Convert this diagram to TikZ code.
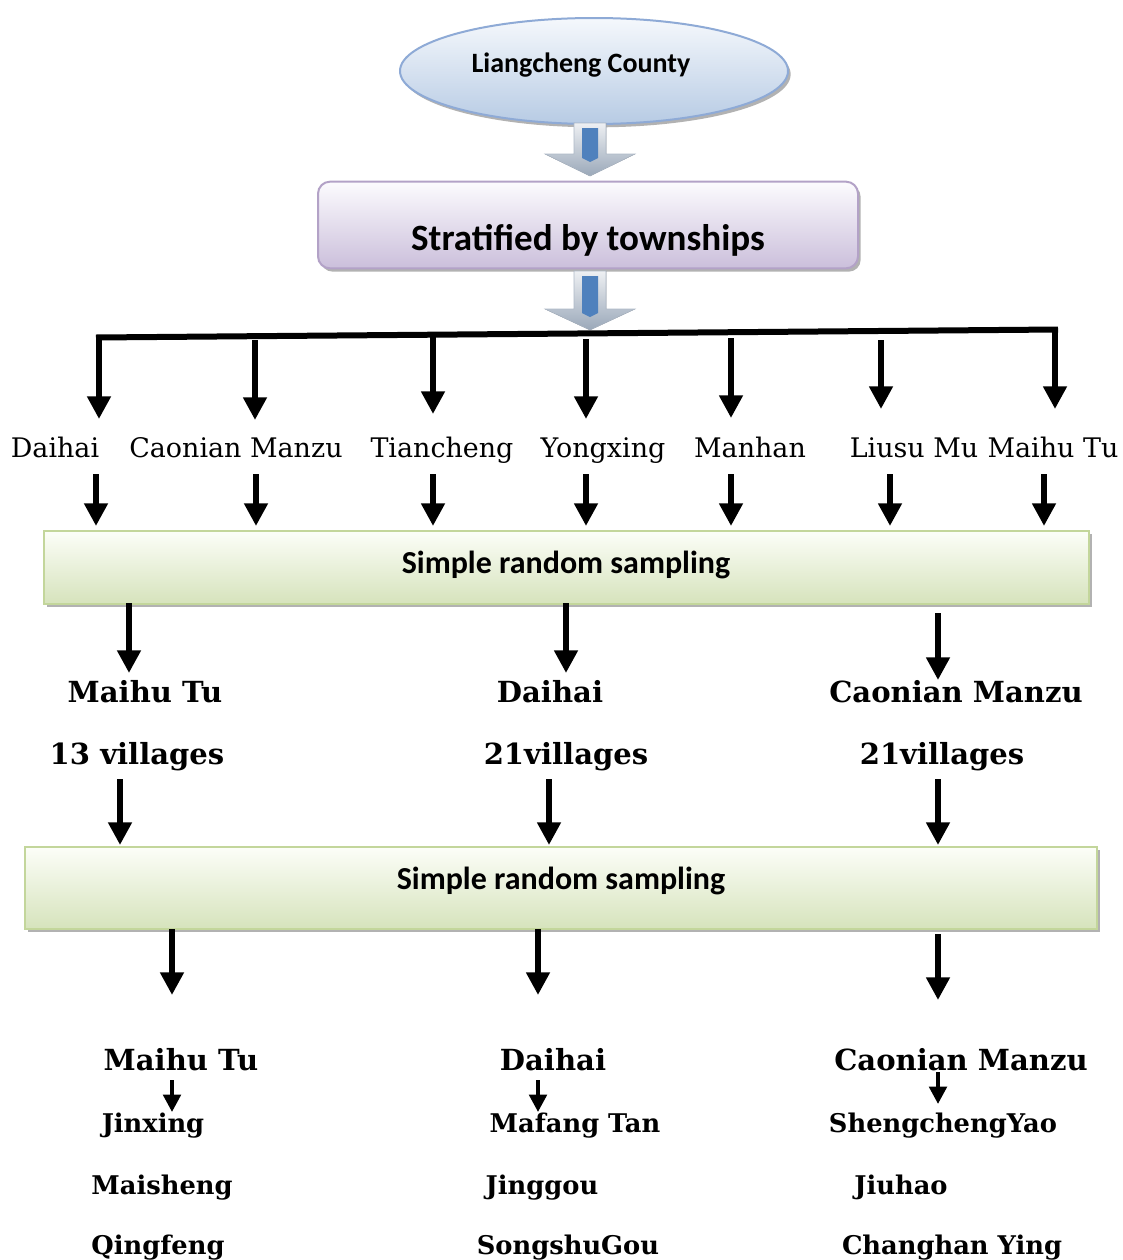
\documentclass[tikz,border=0pt]{standalone}
\usepackage{fontspec}
\setmainfont{DejaVu Serif}
\newfontfamily\boxfont{Carlito}
\usetikzlibrary{arrows.meta,shapes.geometric,shadows}

\definecolor{ellTop}{HTML}{F5F8FC}
\definecolor{ellBot}{HTML}{B7CBE4}
\definecolor{ellLine}{HTML}{8EAAD6}
\definecolor{purTop}{HTML}{FCFBFE}
\definecolor{purBot}{HTML}{CBBFDB}
\definecolor{purLine}{HTML}{B3A2C7}
\definecolor{grnTop}{HTML}{FCFEF8}
\definecolor{grnBot}{HTML}{D6E3BC}
\definecolor{grnLine}{HTML}{C3D69B}
\definecolor{shaftBlue}{HTML}{4F81BD}
\definecolor{headTop}{HTML}{EEF0F3}
\definecolor{headBot}{HTML}{9AA8B9}

\begin{document}
\begin{tikzpicture}[x=0.75pt,y=-0.75pt,
  arr/.style={line width=4.5pt,-{Triangle[width=17pt,length=17pt]}},
  smallarr/.style={line width=3pt,-{Triangle[width=13pt,length=13pt]}},
  boxshadow/.style={drop shadow={shadow xshift=2pt,shadow yshift=-2.5pt,fill=black!55,opacity=0.55}},
  calibri/.style={font=\boxfont\bfseries\fontsize{#1}{#1}\selectfont,inner sep=0pt,anchor=base},
  township/.style={font=\fontsize{20.2}{21}\selectfont,inner sep=0pt,anchor=base},
  head/.style={font=\bfseries\fontsize{21.8}{22}\selectfont,inner sep=0pt,anchor=base},
  village/.style={font=\bfseries\fontsize{19.3}{20}\selectfont,inner sep=0pt,anchor=base},
  samplebox/.style={draw=grnLine,line width=1.5pt,top color=grnTop,bottom color=grnBot,boxshadow}
]
\fill[white] (0,0) rectangle (1122,1260);
\useasboundingbox (0,0) rectangle (1122,1260);

% county ellipse
\node[ellipse,draw=ellLine,line width=1.5pt,top color=ellTop,bottom color=ellBot,
      minimum width=291pt,minimum height=79.5pt,boxshadow] (county) at (594,71) {};
\node[calibri=21] (countytxt) at (581,72) {Liangcheng County};

% stratification box
\node[draw=purLine,line width=1.5pt,rounded corners=9pt,top color=purTop,bottom color=purBot,
      minimum width=405pt,minimum height=65pt,boxshadow] (strat) at (588,225) {};
\node[calibri=27.8] (strattxt) at (588,250) {Stratified by townships};

% shaded block arrows
\foreach \cx/\ya/\yb/\yc in {590/123/154/176, 590/271/309/330}{
  \fill[top color=headTop,bottom color=headBot,draw=headBot!80,line width=0.4pt]
    (\cx-16,\ya) -- (\cx+16,\ya) -- (\cx+16,\yb) -- (\cx+45,\yb) -- (\cx,\yc)
    -- (\cx-45,\yb) -- (\cx-16,\yb) -- cycle;
  \fill[shaftBlue] (\cx-8,\ya+5) -- (\cx+8,\ya+5) -- (\cx+8,\yb+4) -- (\cx,\yb+8)
    -- (\cx-8,\yb+4) -- cycle;
}

% distribution bar
\coordinate (barL) at (96,337.5);
\coordinate (barR) at (1058,329.5);
\draw[line width=4.5pt] (barL) -- (barR);

% townships
\node[township] (t1) at (55,457) {Daihai};
\node[township] (t2) at (236,457) {Caonian Manzu};
\node[township] (t3) at (442,457) {Tiancheng};
\node[township] (t4) at (603,457) {Yongxing};
\node[township] (t5) at (750,457) {Manhan};
\node[township] (t6) at (914,457) {Liusu Mu};
\node[township] (t7) at (1053,457) {Maihu Tu};

% sampling boxes
\node[samplebox,minimum width=783.75pt,minimum height=54.75pt] (srs1) at (566.5,567.5) {};
\node[calibri=24] (srs1txt) at (566,573) {Simple random sampling};
\node[samplebox,minimum width=804pt,minimum height=61.5pt] (srs2) at (561,888) {};
\node[calibri=24] (srs2txt) at (561,889) {Simple random sampling};

% selected townships
\node[head] (s1) at (145,702) {Maihu Tu};
\node[head] (s2) at (550,702) {Daihai};
\node[head] (s3) at (956,702) {Caonian Manzu};
\node[head] (n1) at (137,764) {13 villages};
\node[head] (n2) at (566,764) {21villages};
\node[head] (n3) at (942,764) {21villages};

% sampled villages
\node[head] (b1) at (181,1070) {Maihu Tu};
\node[head] (b2) at (553,1070) {Daihai};
\node[head] (b3) at (961,1070) {Caonian Manzu};
\node[village] (v11) at (153,1132) {Jinxing};
\node[village] (v21) at (575,1132) {Mafang Tan};
\node[village] (v31) at (943,1132) {ShengchengYao};
\node[village] (v12) at (162,1194) {Maisheng};
\node[village] (v22) at (542,1194) {Jinggou};
\node[village] (v32) at (901,1194) {Jiuhao};
\node[village] (v13) at (158,1254) {Qingfeng};
\node[village] (v23) at (568,1254) {SongshuGou};
\node[village] (v33) at (952,1254) {Changhan Ying};

% arrows from the bar down to the townships
\foreach \x/\ys/\ye [count=\i] in {99/335/419,255/340/420,433/336/414,586/339/419,731/338/418,881/340/409,1055/330/409}{
  \coordinate (ta\i) at (\x,\ys);
  \coordinate (tb\i) at (\x,\ye);
  \draw[arr] (ta\i) -- (tb\i);
}
% arrows from the townships into the first sampling
\foreach \x [count=\i] in {96,256,433,586,731,890,1044}{
  \coordinate (ua\i) at (\x,474);
  \coordinate (ub\i) at (\x,526);
  \draw[arr] (ua\i) -- (ub\i);
}
% arrows between the sampling stages
\foreach \x/\ys/\ye [count=\i] in {129/603/673,566/603/673,938/613/680}{
  \coordinate (ca\i) at (\x,\ys); \coordinate (cb\i) at (\x,\ye);
  \draw[arr] (ca\i) -- (cb\i);
}
\foreach \x [count=\i] in {120,549,938}{
  \coordinate (da\i) at (\x,779); \coordinate (db\i) at (\x,845);
  \draw[arr] (da\i) -- (db\i);
}
\foreach \x/\ys/\ye [count=\i] in {172/929/995,538/929/995,938/934/1000}{
  \coordinate (ea\i) at (\x,\ys); \coordinate (eb\i) at (\x,\ye);
  \draw[arr] (ea\i) -- (eb\i);
}
\foreach \x/\ys/\ye [count=\i] in {172/1080/1112,538/1080/1112,938/1072/1104}{
  \coordinate (fa\i) at (\x,\ys); \coordinate (fb\i) at (\x,\ye);
  \draw[smallarr] (fa\i) -- (fb\i);
}
\end{tikzpicture}
\end{document}
